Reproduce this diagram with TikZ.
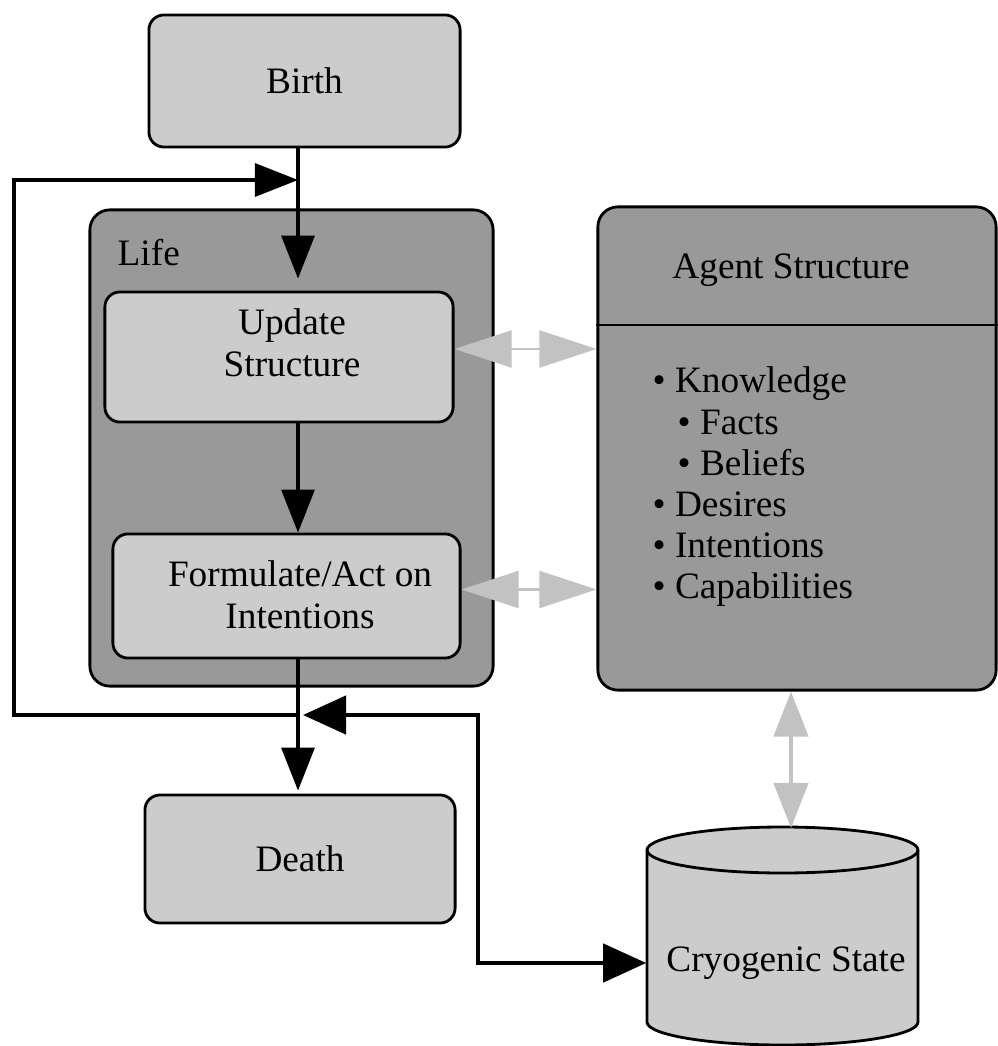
\documentclass[tikz,border=0pt]{standalone}
\usepackage{fontspec}
\setmainfont{Liberation Serif}
\usetikzlibrary{arrows.meta}
\definecolor{boxlight}{HTML}{CCCCCC}
\definecolor{boxdark}{HTML}{999999}
\definecolor{linkgray}{HTML}{C2C2C2}

\begin{document}
\begin{tikzpicture}[x=0.01cm, y=-0.01cm,
    font=\fontsize{10.6}{12}\selectfont,
    box/.style={draw, line width=0.8pt, rounded corners=0.15cm, fill=boxlight, align=center},
    frame/.style={draw, line width=0.8pt, rounded corners=0.2cm, fill=boxdark},
    label/.style={anchor=base west, inner sep=0pt},
    flow/.style={line width=0.9pt, -{Triangle[length=0.43cm, width=0.33cm]}},
    swap/.style={line width=1.3pt, {Triangle[length=0.43cm, width=0.38cm]}-{Triangle[length=0.43cm, width=0.38cm]}},
    share/.style={color=linkgray, line width=0.6pt, {Triangle[length=0.57cm, width=0.37cm]}-{Triangle[length=0.57cm, width=0.37cm]}},
    sharev/.style={color=linkgray, line width=1.3pt, {Triangle[length=0.45cm, width=0.34cm]}-{Triangle[length=0.45cm, width=0.34cm]}}]
    \useasboundingbox (0,0) rectangle (997,1046);

    % the two big frames
    \node[frame, minimum width=4.03cm, minimum height=4.76cm] (life) at (291.5,448) {};
    \node[label] (lifetitle) at (117,266) {Life};
    \node[frame, minimum width=3.98cm, minimum height=4.83cm] (agent) at (797,448.5) {};
    \node (agenttitle) at (791,270) {Agent Structure};
    \draw[line width=0.8pt] (agent.west |- 0,325) -- (agent.east |- 0,325);
    \foreach \txt/\ind [count=\i from 0] in {Knowledge/0, Facts/1, Beliefs/1, Desires/0, Intentions/0, Capabilities/0}
      \node[label] (item\i) at (652+25*\ind, 393+41*\i) {\textbullet\ \txt};

    % life cycle boxes
    \node[box, minimum width=3.11cm, minimum height=1.32cm] (birth) at (304.5,81) {Birth};
    \node[box, minimum width=3.48cm, minimum height=1.30cm] (update) at (279,357) {};
    \node[align=center] (updatetxt) at (292,343) {Update\\Structure};
    \node[box, minimum width=3.47cm, minimum height=1.24cm] (form) at (286.5,596) {};
    \node[align=center] (formtxt) at (300,595) {Formulate/Act on\\Intentions};
    \node[box, minimum width=3.10cm, minimum height=1.28cm] (death) at (300,859) {Death};

    % cryogenic store
    \draw[line width=0.8pt, fill=boxlight] (647,850) -- (647,1022)
      arc[start angle=180, end angle=0, x radius=135.5, y radius=23] -- (918,850)
      arc[start angle=0, end angle=-180, x radius=135.5, y radius=23] -- cycle;
    \draw[line width=0.8pt] (647,850) arc[start angle=180, end angle=0, x radius=135.5, y radius=23];
    \node[minimum width=2.71cm, minimum height=2.18cm] (cryo) at (782.5,936) {};
    \node (cryotxt) at (786,963) {Cryogenic State};

    \coordinate (jtop) at (298,180);
    \coordinate (jbot) at (298,715);
    \coordinate (loopTL) at (14,180);
    \coordinate (loopBL) at (14,715);
    \coordinate (cryobend) at (478,963);
    \coordinate (cryotop) at (791,828);

    % black flow
    \draw[flow, shorten >=0.12cm] (birth.south -| jtop) -- (update.north -| jtop);
    \draw[flow] (jbot) -- (loopBL) -- (loopTL) -- (jtop);
    \draw[flow] (update.south -| jtop) -- (form.north -| jtop);
    \draw[flow, shorten >=0.03cm] (form.south -| jtop) -- (death.north -| jtop);
    \draw[swap, shorten <=0.05cm] (jbot) -- (jbot -| cryobend) -- (cryobend) -- (cryo.west |- cryotxt);

    % gray links to the agent structure
    \draw[share] ([yshift=0.08cm]update.east) -- ([yshift=0.08cm]update.east -| agent.west);
    \draw[share] ([yshift=0.065cm]form.east) -- ([yshift=0.065cm]form.east -| agent.west);
    \draw[sharev] (agent.south -| cryotop) -- (cryotop);
\end{tikzpicture}
\end{document}
